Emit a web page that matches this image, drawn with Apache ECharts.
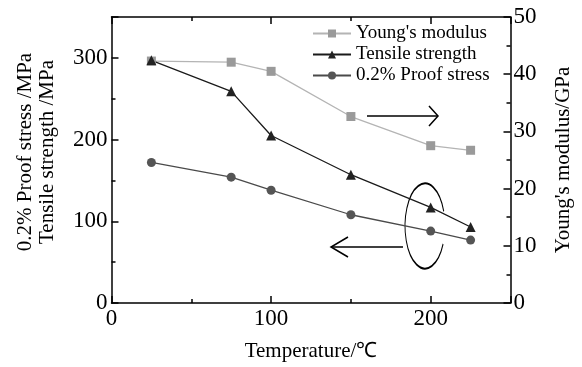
<!DOCTYPE html>
<html>
<head>
<meta charset="utf-8">
<script src="https://cdn.jsdelivr.net/npm/echarts@6/dist/echarts.min.js"></script>
<style>
  html, body { margin: 0; padding: 0; background: #fff; }
  #chart { width: 582px; height: 367px; }
</style>
</head>
<body>
<div id="chart"></div>
<script>
const temperature = [25, 75, 100, 150, 200, 225]
const youngsModulus = [42.3, 42.1, 40.5, 32.6, 27.5, 26.7]
const tensileStrength = [297, 259, 205, 157, 117, 93]
const proofStress = [172, 154, 138, 108, 88, 77]

const FONT = '"Liberation Serif", "Times New Roman", serif'

const pairs = (vals) => temperature.map((t, i) => [t, vals[i]])

const chart = echarts.init(document.getElementById('chart'))

const lineStyle = { color: '#000', width: 1.5 }
const hundreds = (v) => (v % 100 === 0 ? String(v) : '')
const tens = (v) => (v % 10 === 0 ? String(v) : '')

// major + minor tick axes (minor ones just overlay short ticks)
const xMajor = (pos, showLabel) => ({
  type: 'value', position: pos, min: 0, max: 250, interval: 100,
  axisLine: { show: true, onZero: false, lineStyle },
  axisTick: { inside: true, length: 7, lineStyle },
  axisLabel: { show: showLabel, formatter: hundreds, color: '#000', fontFamily: FONT, fontSize: 23, margin: 4 },
  splitLine: { show: false }
})
const xMinor = (pos) => ({
  type: 'value', position: pos, min: 0, max: 250, interval: 50,
  axisLine: { show: false, onZero: false },
  axisTick: { inside: true, length: 4, lineStyle },
  axisLabel: { show: false },
  splitLine: { show: false }
})

const option = {
  backgroundColor: '#fff',
  animation: false,
  grid: { left: 111.5, right: 71.5, top: 17, bottom: 64 },
  legend: {
    left: 312,
    top: 24,
    orient: 'vertical',
    padding: 0,
    itemWidth: 38,
    itemHeight: 10,
    itemGap: 2,
    textStyle: { fontFamily: FONT, fontSize: 19, color: '#000' },
    data: ["Young's modulus", 'Tensile strength', '0.2% Proof stress']
  },
  xAxis: [
    Object.assign(xMajor('bottom', true), {
      name: 'Temperature/℃',
      nameLocation: 'middle',
      nameGap: 38,
      nameTextStyle: { fontFamily: FONT, fontSize: 21, color: '#000' }
    }),
    xMinor('bottom'),
    xMajor('top', false),
    xMinor('top')
  ],
  yAxis: [
    {
      type: 'value', position: 'left', min: 0, max: 350, interval: 100,
      name: '0.2% Proof stress /MPa\nTensile strength /MPa',
      nameLocation: 'middle',
      nameGap: 53,
      nameTextStyle: { fontFamily: FONT, fontSize: 21, color: '#000', lineHeight: 22, padding: [0, 0, 0, 16] },
      axisLine: { show: true, onZero: false, lineStyle },
      axisTick: { inside: true, length: 7, lineStyle },
      axisLabel: { formatter: hundreds, color: '#000', fontFamily: FONT, fontSize: 23, margin: 4 },
      splitLine: { show: false }
    },
    {
      type: 'value', position: 'right', min: 0, max: 50, interval: 10,
      name: "Young's modulus/GPa",
      nameLocation: 'middle',
      nameGap: 42,
      nameTextStyle: { fontFamily: FONT, fontSize: 21, color: '#000', padding: [0, 0, 16, 0] },
      axisLine: { show: true, onZero: false, lineStyle },
      axisTick: { inside: true, length: 7, lineStyle },
      axisLabel: { formatter: tens, color: '#000', fontFamily: FONT, fontSize: 23, margin: 3 },
      splitLine: { show: false }
    },
    {
      type: 'value', position: 'left', min: 0, max: 350, interval: 50,
      axisLine: { show: false, onZero: false },
      axisTick: { inside: true, length: 4, lineStyle },
      axisLabel: { show: false },
      splitLine: { show: false }
    },
    {
      type: 'value', position: 'right', min: 0, max: 50, interval: 5,
      axisLine: { show: false, onZero: false },
      axisTick: { inside: true, length: 4, lineStyle },
      axisLabel: { show: false },
      splitLine: { show: false }
    }
  ],
  series: [
    {
      name: "Young's modulus",
      type: 'line',
      xAxisIndex: 0,
      yAxisIndex: 1,
      data: pairs(youngsModulus),
      symbol: 'rect',
      symbolSize: 9,
      lineStyle: { color: '#b4b4b4', width: 1.3 },
      itemStyle: { color: '#9a9a9a' }
    },
    {
      name: 'Tensile strength',
      type: 'line',
      xAxisIndex: 0,
      yAxisIndex: 0,
      data: pairs(tensileStrength),
      symbol: 'triangle',
      symbolSize: 10,
      lineStyle: { color: '#1a1a1a', width: 1.3 },
      itemStyle: { color: '#222' }
    },
    {
      name: '0.2% Proof stress',
      type: 'line',
      xAxisIndex: 0,
      yAxisIndex: 0,
      data: pairs(proofStress),
      symbol: 'circle',
      symbolSize: 9,
      lineStyle: { color: '#4a4a4a', width: 1.3 },
      itemStyle: { color: '#555' }
    }
  ],
  graphic: [
    // arrow pointing right (-> right axis)
    { type: 'polyline', shape: { points: [[367, 116], [438, 116]] }, style: { stroke: '#000', lineWidth: 1.5, fill: null } },
    { type: 'polyline', shape: { points: [[429, 106], [438, 116], [429, 126]] }, style: { stroke: '#000', lineWidth: 1.5, fill: null } },
    // arrow pointing left (-> left axis)
    { type: 'polyline', shape: { points: [[403, 247], [331, 247]] }, style: { stroke: '#000', lineWidth: 1.5, fill: null } },
    { type: 'polyline', shape: { points: [[348, 237], [331, 247], [348, 257]] }, style: { stroke: '#000', lineWidth: 1.5, fill: null } },
    // open ellipse around the two left-axis series
    {
      type: 'arc',
      x: 425, y: 226,
      scaleX: 0.47,
      shape: { cx: 0, cy: 0, r: 42.5, startAngle: 25 * Math.PI / 180, endAngle: 340 * Math.PI / 180, clockwise: true },
      style: { stroke: '#000', lineWidth: 2, fill: null, strokeNoScale: true }
    }
  ]
}

chart.setOption(option)
</script>
</body>
</html>
